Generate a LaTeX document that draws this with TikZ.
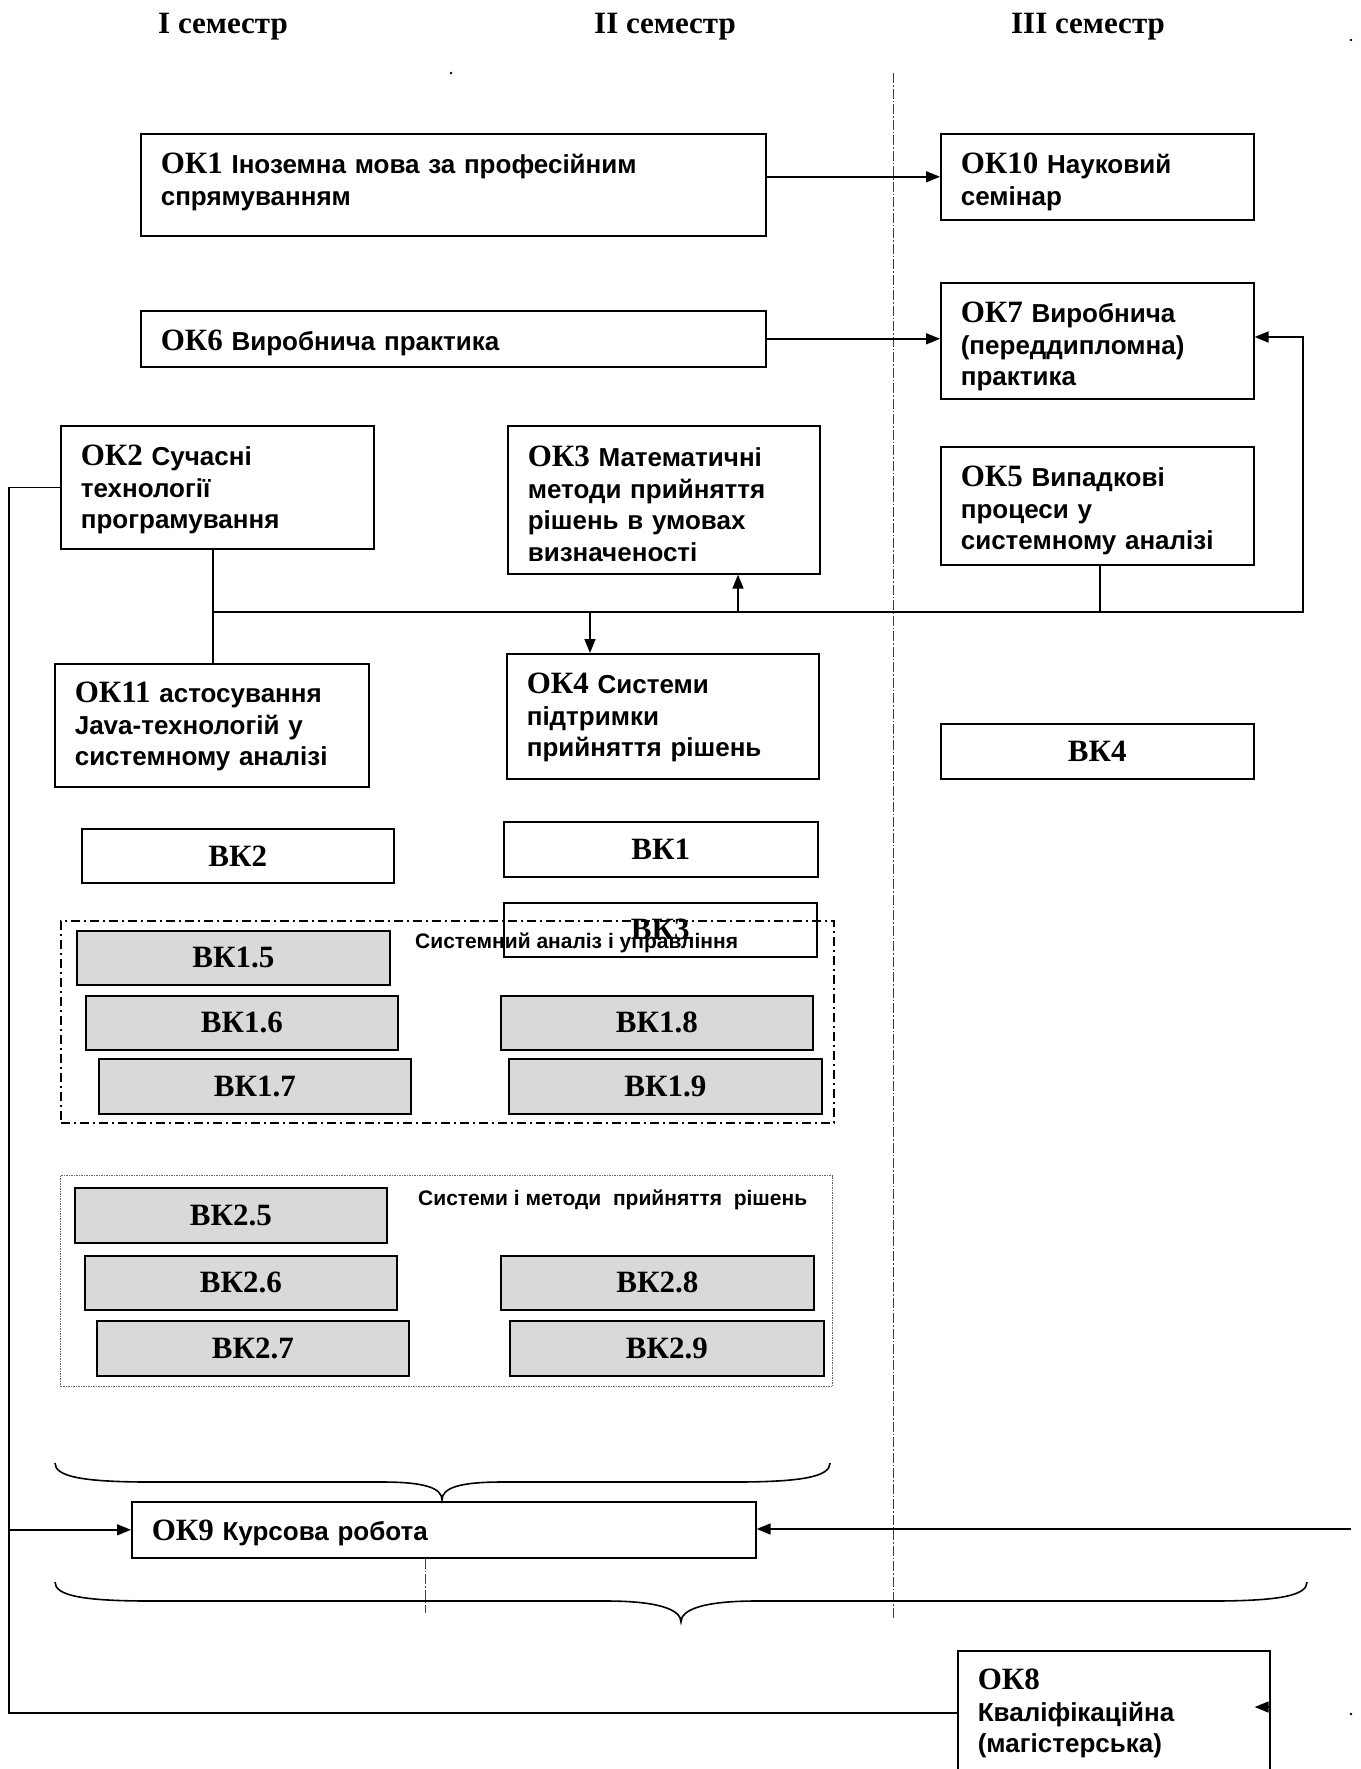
\documentclass[tikz,border=0pt]{standalone}
\usepackage{fontspec}
\setmainfont{Liberation Sans}
\newfontfamily\timesf{Liberation Serif}
\usetikzlibrary{arrows.meta}
\definecolor{boxgray}{RGB}{217,217,217}
\newcommand\kk[1]{{\timesf\fontsize{31}{31.5}\selectfont #1}}
\begin{document}
\begin{tikzpicture}[x=1pt,y=-1pt,
  okbox/.style={draw, line width=1.6pt, anchor=north west, inner xsep=20pt, inner ysep=0pt,
    align=left, font=\bfseries\fontsize{26}{31.5}\selectfont},
  bkbox/.style={draw, line width=1.6pt, anchor=north west, inner sep=0pt,
    font=\timesf\bfseries\fontsize{31}{31.5}\selectfont},
  gbox/.style={bkbox, fill=boxgray},
  hdr/.style={anchor=base, inner sep=0pt, font=\timesf\bfseries\fontsize{31}{31.5}\selectfont},
  glabel/.style={anchor=base west, inner sep=0pt, font=\bfseries\fontsize{21}{25}\selectfont},
  conn/.style={line width=1.6pt},
  arr/.style={conn, -{Triangle[length=14pt,width=11pt]}},
  divline/.style={line width=0.9pt, black!75, dash pattern=on 10pt off 2pt on 1.5pt off 2pt},
  grpA/.style={draw, line width=1.6pt, anchor=north west, inner sep=0pt, dash pattern=on 9pt off 4pt on 2pt off 4pt},
  grpB/.style={draw, line width=1pt, black!60, anchor=north west, inner sep=0pt, dash pattern=on 1.5pt off 1pt}
]
\path[use as bounding box] (0,0) rectangle (1360,1769);
\clip (0,0) rectangle (1360,1769);

% headers
\node[hdr] (s1) at (223,34) {I семестр};
\node[hdr] (s2) at (665,34) {II семестр};
\node[hdr] (s3) at (1088,34) {III семестр};

% divider
\draw[divline] (893,73) -- (893,1618);

% OK boxes
\node[okbox, text width=585pt, text height=40pt, text depth=62pt] (ok1) at (140,133)
  {\kk{ОК1} Іноземна мова за професійним\\спрямуванням};
\node[okbox, text width=585pt, text height=40pt, text depth=16pt] (ok6) at (140,310)
  {\kk{ОК6} Виробнича практика};
\node[okbox, text width=273pt, text height=40pt, text depth=46pt] (ok10) at (940,133)
  {\kk{ОК10} Науковий\\семінар};
\node[okbox, text width=273pt, text height=40pt, text depth=76pt] (ok7) at (940,282)
  {\kk{ОК7} Виробнича\\(переддипломна)\\практика};
\node[okbox, text width=273pt, text height=40pt, text depth=83pt] (ok2) at (60,425)
  {\kk{ОК2} Сучасні\\технології\\програмування};
\node[okbox, text width=272pt, text height=41pt, text depth=107pt] (ok3) at (507,425)
  {\kk{ОК3} Математичні\\методи прийняття\\рішень в умовах\\визначеності};
\node[okbox, text width=273pt, text height=40pt, text depth=78pt] (ok5) at (940,446)
  {\kk{ОК5} Випадкові\\процеси у\\системному аналізі};
\node[okbox, text width=274pt, text height=39pt, text depth=84pt] (ok11) at (54,663)
  {\kk{ОК11} астосування\\Java-технологій у\\системному аналізі};
\node[okbox, text width=272pt, text height=40pt, text depth=85pt] (ok4) at (506,653)
  {\kk{ОК4} Системи\\підтримки\\прийняття рішень};
\node[okbox, text width=584pt, text height=39pt, text depth=17pt] (ok9) at (131,1501)
  {\kk{ОК9} Курсова робота};
\node[okbox, text width=272pt, text height=39pt, text depth=161pt] (ok8) at (957,1650)
  {\kk{ОК8}\\Кваліфікаційна\\(магістерська)};

% BK boxes
\node[bkbox, minimum width=313pt, minimum height=55pt] (bk4) at (940,723) {ВК4};
\node[bkbox, minimum width=312pt, minimum height=54pt] (bk2) at (81,828) {ВК2};
\node[bkbox, minimum width=314pt, minimum height=55pt] (bk1) at (503,821) {ВК1};
\node[bkbox, minimum width=313pt, minimum height=54pt] (bk3) at (503,902) {ВК3};

\node[gbox, minimum width=313pt, minimum height=54pt] (bk15) at (76,930) {ВК1.5};
\node[gbox, minimum width=312pt, minimum height=54pt] (bk16) at (85,995) {ВК1.6};
\node[gbox, minimum width=312pt, minimum height=55pt] (bk17) at (98,1058) {ВК1.7};
\node[gbox, minimum width=312pt, minimum height=54pt] (bk18) at (500,995) {ВК1.8};
\node[gbox, minimum width=313pt, minimum height=55pt] (bk19) at (508,1058) {ВК1.9};

\node[gbox, minimum width=312pt, minimum height=55pt] (bk25) at (74,1187) {ВК2.5};
\node[gbox, minimum width=312pt, minimum height=54pt] (bk26) at (84,1255) {ВК2.6};
\node[gbox, minimum width=312pt, minimum height=55pt] (bk27) at (96,1320) {ВК2.7};
\node[gbox, minimum width=313pt, minimum height=54pt] (bk28) at (500,1255) {ВК2.8};
\node[gbox, minimum width=314pt, minimum height=55pt] (bk29) at (509,1320) {ВК2.9};

% groups
\node[grpA, minimum width=773pt, minimum height=202pt] (g1) at (60,920) {};
\node[grpB, minimum width=772pt, minimum height=211pt] (g2) at (60,1175) {};
\node[glabel] (g1l) at (415,948) {Системний аналіз і управління};
\node[glabel] (g2l) at (418,1205) {Системи і методи\ \ прийняття\ \ рішень};

% braces
\draw[line width=1.6pt] (55,1463) .. controls (55,1476) and (80,1482) .. (150,1482) -- (382,1482)
  .. controls (425,1482) and (442,1488) .. (442,1500)
  .. controls (442,1488) and (459,1482) .. (502,1482) -- (735,1482)
  .. controls (805,1482) and (830,1476) .. (830,1463);
\draw[line width=1.6pt] (55,1582) .. controls (55,1595) and (80,1601) .. (150,1601) -- (606,1601)
  .. controls (660,1601) and (681,1610) .. (681,1622)
  .. controls (681,1610) and (702,1601) .. (756,1601) -- (1212,1601)
  .. controls (1282,1601) and (1307,1595) .. (1307,1582);

% dash-dot below OK9
\coordinate (dv) at (425,1613);
\draw[divline] (dv |- ok9.south) -- (dv);

% connectors
\draw[arr] (ok1.east |- ok10.west) -- (ok10.west);
\draw[arr] (ok6.east) -- (ok6.east -| ok7.west);

\coordinate (j1) at (213,612);
\coordinate (j5) at (1100,612);
\coordinate (r1) at (1303,612);
\coordinate (r2) at (1303,337);
\coordinate (j4) at (590,612);
\coordinate (j3) at (738,612);
\draw[conn] (j1 |- ok2.south) -- (j1 |- ok11.north);
\draw[conn] (j1) -- (j5);
\draw[arr] (j5 |- ok5.south) -- (j5) -- (r1) -- (r2) -- (r2 -| ok7.east);
\draw[arr] (j4) -- (j4 |- ok4.north);
\draw[arr] (j3) -- (j3 |- ok3.south);

\coordinate (L1) at (9,1713);
\coordinate (Rin) at (1351,1529);
\draw[conn] (ok2.west) -| (L1) -- (L1 -| ok8.west);
\draw[arr] (L1 |- ok9.west) -- (ok9.west);
\draw[arr] (Rin) -- (Rin -| ok9.east);
\draw[arr] (ok8.north east) ++(0,57) -- ++(-16,0);

% stray dots
\fill (451,73) circle (1.3);
\fill (1351,40) circle (1.3);
\fill (1351,1714) circle (1.3);
\end{tikzpicture}
\end{document}
